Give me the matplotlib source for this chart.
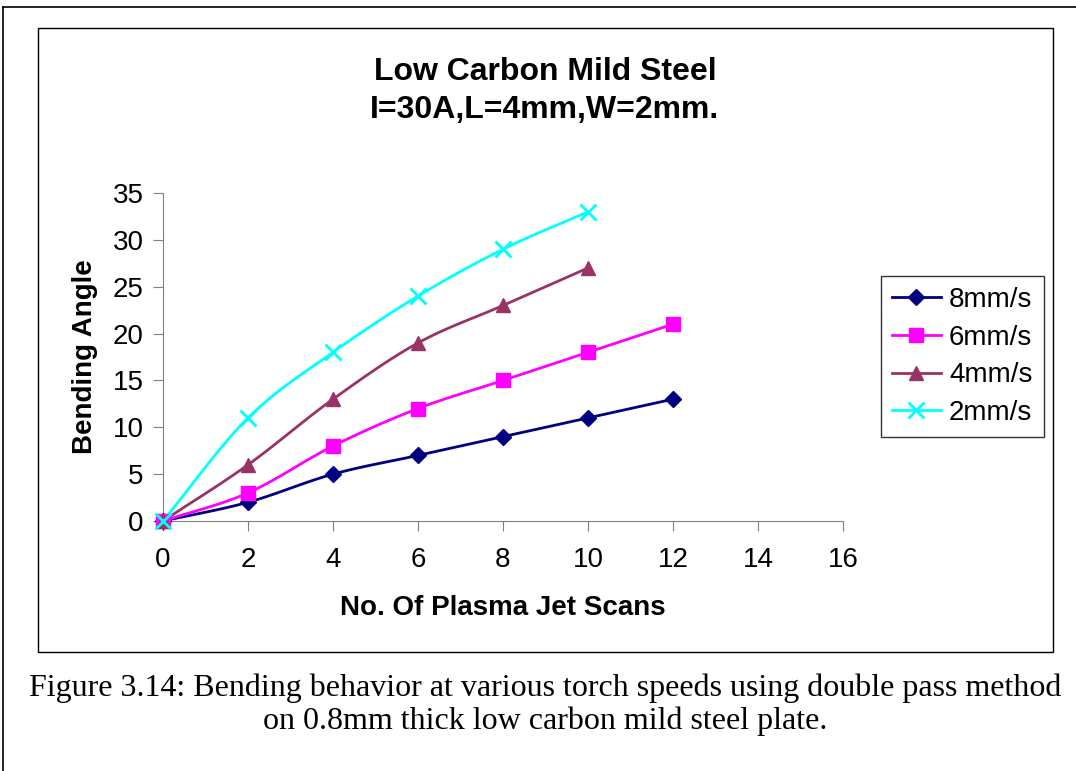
import numpy as np
import matplotlib
matplotlib.use("Agg")
import matplotlib.pyplot as plt
from matplotlib.patches import Rectangle
from matplotlib.lines import Line2D

plt.rcParams["font.family"] = ["Liberation Sans", "DejaVu Sans"]

# ---------- data ----------
scans = [0, 2, 4, 6, 8, 10, 12]
speed_8 = [0, 2, 5, 7, 9, 11, 13]
speed_6 = [0, 3, 8, 12, 15, 18, 21]
speed_4 = [0, 6, 13, 19, 23, 27]
speed_2 = [0, 11, 18, 24, 29, 33]
labels = ["8mm/s", "6mm/s", "4mm/s", "2mm/s"]


def smooth(x, y, n=20):
    # Catmull-Rom style curve through the points (like Excel "smoothed line")
    x = np.asarray(x, float)
    y = np.asarray(y, float)
    px = np.concatenate([[2 * x[0] - x[1]], x, [2 * x[-1] - x[-2]]])
    py = np.concatenate([[2 * y[0] - y[1]], y, [2 * y[-1] - y[-2]]])
    xs, ys = [], []
    t = np.linspace(0, 1, n)
    for i in range(1, len(px) - 2):
        for p, out in ((px, xs), (py, ys)):
            p0, p1, p2, p3 = p[i - 1], p[i], p[i + 1], p[i + 2]
            out.extend(0.5 * ((2 * p1) + (-p0 + p2) * t
                              + (2 * p0 - 5 * p1 + 4 * p2 - p3) * t ** 2
                              + (-p0 + 3 * p1 - 3 * p2 + p3) * t ** 3))
    return xs, ys


fig = plt.figure(figsize=(10.76, 7.71), dpi=100)

# page frame and chart box
fig.add_artist(Line2D([3 / 1076, 1], [1 - 7 / 771, 1 - 7 / 771], color="black", lw=1.2,
                      transform=fig.transFigure))
fig.add_artist(Line2D([3 / 1076, 3 / 1076], [0, 1 - 7 / 771], color="black", lw=1.2,
                      transform=fig.transFigure))
fig.add_artist(Rectangle((38 / 1076, 1 - 652 / 771), (1053 - 38) / 1076, (652 - 28) / 771,
                         transform=fig.transFigure, fill=False, edgecolor="black", lw=1.0))

ax = fig.add_axes([163 / 1076, 1 - 521 / 771, (843 - 163) / 1076, (521 - 193) / 771])

series = [
    (scans, speed_8, "#000080", "D", 8),
    (scans, speed_6, "#FF00FF", "s", 10),
    (scans[:6], speed_4, "#993366", "^", 10),
    (scans[:6], speed_2, "#00FFFF", "x", 11),
]
handles = []
for (x, y, c, m, ms), lab in zip(series, labels):
    sx, sy = smooth(x, y)
    ax.plot(sx, sy, color=c, lw=2, clip_on=False)
    ax.plot(x, y, linestyle="none", marker=m, color=c, markersize=ms,
            markeredgewidth=2 if m == "x" else 1, clip_on=False, zorder=3)
    handles.append(Line2D([], [], color=c, lw=2, marker=m, markersize=ms,
                          markeredgewidth=2 if m == "x" else 1))

ax.set_xlim(0, 16)
ax.set_ylim(0, 35)
ax.set_xticks(range(0, 17, 2))
ax.set_yticks(range(0, 36, 5))
ax.spines["top"].set_visible(False)
ax.spines["right"].set_visible(False)
for s in ("left", "bottom"):
    ax.spines[s].set_color("#808080")
ax.tick_params(direction="out", length=7, color="#808080", labelsize=20)
ax.tick_params(axis="x", pad=12)
ax.tick_params(axis="y", pad=7)

ax.set_xlabel("No. Of Plasma Jet Scans", fontsize=20, fontweight="bold", va="center")
ax.xaxis.set_label_coords(0.5, -0.265)
ax.set_ylabel("Bending Angle", fontsize=20, fontweight="bold", va="center")
ax.yaxis.set_label_coords(-0.1147, 0.5)

fig.text(545 / 1076, 1 - 91 / 771, "Low Carbon Mild Steel\nI=30A,L=4mm,W=2mm.",
         ha="center", va="center", fontsize=23, fontweight="bold", linespacing=1.35)

leg = fig.legend(handles, labels, loc="upper left",
                 bbox_to_anchor=(881 / 1076, 1 - 276 / 771), fontsize=20,
                 frameon=True, fancybox=False, edgecolor="black", borderpad=0.4,
                 handlelength=1.75, labelspacing=0.42, handletextpad=0.3,
                 borderaxespad=0)
leg.get_frame().set_linewidth(1.0)

fig.text(545 / 1076, 1 - 705 / 771,
         "Figure 3.14: Bending behavior at various torch speeds using double pass method\n"
         "on 0.8mm thick low carbon mild steel plate.",
         ha="center", va="center", fontsize=23, family="Liberation Serif", linespacing=1.15)

fig.savefig("out.png", dpi=100)
